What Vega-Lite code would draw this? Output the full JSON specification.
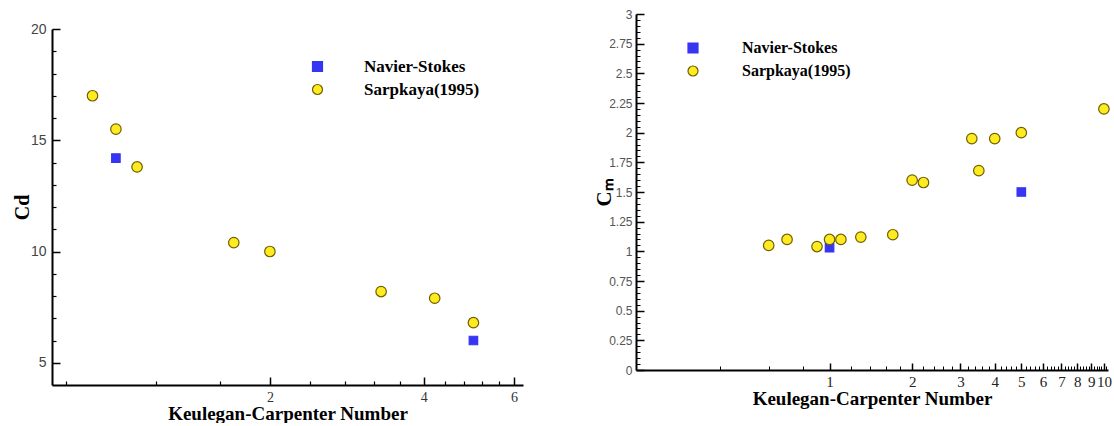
{
  "$schema": "https://vega.github.io/schema/vega-lite/v6.json",
  "padding": {"left": 12, "top": 8, "right": 0, "bottom": 0},
  "background": "white",
  "config": {"view": {"stroke": null}, "axis": {"grid": false}},
  "datasets": {
    "cd": [
      {"kc": 1.0, "coef": 14.2, "series": "Navier-Stokes"},
      {"kc": 5.0, "coef": 6.0, "series": "Navier-Stokes"},
      {"kc": 0.9, "coef": 17.0, "series": "Sarpkaya(1995)"},
      {"kc": 1.0, "coef": 15.5, "series": "Sarpkaya(1995)"},
      {"kc": 1.1, "coef": 13.8, "series": "Sarpkaya(1995)"},
      {"kc": 1.7, "coef": 10.4, "series": "Sarpkaya(1995)"},
      {"kc": 2.0, "coef": 10.0, "series": "Sarpkaya(1995)"},
      {"kc": 3.3, "coef": 8.2, "series": "Sarpkaya(1995)"},
      {"kc": 4.2, "coef": 7.9, "series": "Sarpkaya(1995)"},
      {"kc": 5.0, "coef": 6.8, "series": "Sarpkaya(1995)"}
    ],
    "cm": [
      {"kc": 1.0, "coef": 1.03, "series": "Navier-Stokes"},
      {"kc": 5.0, "coef": 1.5, "series": "Navier-Stokes"},
      {"kc": 0.6, "coef": 1.05, "series": "Sarpkaya(1995)"},
      {"kc": 0.7, "coef": 1.10, "series": "Sarpkaya(1995)"},
      {"kc": 0.9, "coef": 1.04, "series": "Sarpkaya(1995)"},
      {"kc": 1.0, "coef": 1.10, "series": "Sarpkaya(1995)"},
      {"kc": 1.1, "coef": 1.10, "series": "Sarpkaya(1995)"},
      {"kc": 1.3, "coef": 1.12, "series": "Sarpkaya(1995)"},
      {"kc": 1.7, "coef": 1.14, "series": "Sarpkaya(1995)"},
      {"kc": 2.0, "coef": 1.60, "series": "Sarpkaya(1995)"},
      {"kc": 2.2, "coef": 1.58, "series": "Sarpkaya(1995)"},
      {"kc": 3.3, "coef": 1.95, "series": "Sarpkaya(1995)"},
      {"kc": 3.5, "coef": 1.68, "series": "Sarpkaya(1995)"},
      {"kc": 4.0, "coef": 1.95, "series": "Sarpkaya(1995)"},
      {"kc": 5.0, "coef": 2.0, "series": "Sarpkaya(1995)"},
      {"kc": 10.0, "coef": 2.2, "series": "Sarpkaya(1995)"}
    ]
  },
  "hconcat": [
    {
      "vconcat": [
        {"width": 10, "height": 1, "data": {"values": []}, "mark": "point", "encoding": {}},
        {
          "width": 471,
          "height": 356,
          "data": {"name": "cd"},
          "layer": [
            {
              "mark": {"type": "point", "filled": true, "strokeWidth": 1.2, "opacity": 1},
              "encoding": {
                "x": {"field": "kc", "type": "quantitative",
                  "scale": {"type": "log", "domain": [0.75, 6.25], "nice": false},
                  "axis": {"values": [2, 4, 6], "labelExpr": "'' + datum.value", "title": "Keulegan-Carpenter Number",
                    "titleFont": "Liberation Serif", "titleFontSize": 19, "titleFontWeight": "bold", "titleColor": "#000", "titlePadding": 0,
                    "labelFont": "Liberation Serif", "labelFontSize": 14, "labelColor": "#333", "labelPadding": 13, "labelFlush": false,
                    "tickSize": -8, "tickColor": "#000", "tickWidth": 1.5, "domainColor": "#000", "domainWidth": 2}},
                "y": {"field": "coef", "type": "quantitative",
                  "scale": {"domain": [4, 20], "nice": false, "zero": false},
                  "axis": {"values": [5, 10, 15, 20], "labelExpr": "'' + datum.value", "title": "Cd",
                    "titleFont": "Liberation Serif", "titleFontSize": 20, "titleFontWeight": "bold", "titleColor": "#000", "titlePadding": -2,
                    "labelFont": "Liberation Sans", "labelFontSize": 14, "labelColor": "#444", "labelPadding": 14, "labelFlush": false,
                    "tickSize": -8, "tickColor": "#000", "tickWidth": 1.5, "domainColor": "#000", "domainWidth": 2}},
                "shape": {"field": "series", "type": "nominal",
                  "scale": {"domain": ["Navier-Stokes", "Sarpkaya(1995)"], "range": ["square", "circle"]},
                  "legend": {"title": null, "orient": "none", "legendX": 257, "legendY": 44, "padding": 0,
                    "labelFont": "Liberation Serif", "labelFontWeight": "bold", "labelFontSize": 17, "labelColor": "#000",
                    "labelOffset": 38, "symbolSize": 100, "rowPadding": 5, "symbolStrokeWidth": 1.2}},
                "fill": {"field": "series", "type": "nominal",
                  "scale": {"domain": ["Navier-Stokes", "Sarpkaya(1995)"], "range": ["#3535f2", "#ffeb1f"]},
                  "legend": {"title": null, "orient": "none", "legendX": 257, "legendY": 44, "padding": 0,
                    "labelFont": "Liberation Serif", "labelFontWeight": "bold", "labelFontSize": 17, "labelColor": "#000",
                    "labelOffset": 38, "symbolSize": 100, "rowPadding": 5, "symbolStrokeWidth": 1.2}},
                "stroke": {"field": "series", "type": "nominal",
                  "scale": {"domain": ["Navier-Stokes", "Sarpkaya(1995)"], "range": ["#3535f2", "#6e6000"]},
                  "legend": {"title": null, "orient": "none", "legendX": 257, "legendY": 44, "padding": 0,
                    "labelFont": "Liberation Serif", "labelFontWeight": "bold", "labelFontSize": 17, "labelColor": "#000",
                    "labelOffset": 38, "symbolSize": 100, "rowPadding": 5, "symbolStrokeWidth": 1.2}},
                "size": {"condition": {"test": "datum.series === 'Navier-Stokes'", "value": 72}, "value": 110}
              }
            },
            {
              "mark": {"type": "point", "opacity": 0},
              "encoding": {
                "x": {"field": "kc", "type": "quantitative",
                  "scale": {"type": "log", "domain": [0.75, 6.25], "nice": false},
                  "axis": {"orient": "bottom", "values": [0.8, 1.2, 1.6, 2.4, 2.8, 3.2, 3.6, 4.4, 4.8, 5.2, 5.6],
                    "labels": false, "domain": false, "title": null, "tickSize": -4, "tickColor": "#000", "tickWidth": 1.2}},
                "y": {"field": "coef", "type": "quantitative",
                  "scale": {"domain": [4, 20], "nice": false, "zero": false},
                  "axis": {"orient": "left", "values": [6, 7, 8, 9, 11, 12, 13, 14, 16, 17, 18, 19],
                    "labels": false, "domain": false, "title": null, "tickSize": -4, "tickColor": "#000", "tickWidth": 1.2}}
              }
            }
          ],
          "resolve": {"axis": {"x": "independent", "y": "independent"}}
        }
      ],
      "spacing": 14,
      "bounds": "flush"
    },
    {
      "width": 472,
      "height": 356,
      "data": {"name": "cm"},
      "layer": [
        {
          "mark": {"type": "point", "filled": true, "strokeWidth": 1.2, "opacity": 1},
          "encoding": {
            "x": {"field": "kc", "type": "quantitative",
              "scale": {"type": "log", "domain": [0.197, 10.35], "nice": false},
              "axis": {"values": [1, 2, 3, 4, 5, 6, 7, 8, 9, 10], "labelExpr": "'' + datum.value", "title": "Keulegan-Carpenter Number",
                "titleFont": "Liberation Serif", "titleFontSize": 19, "titleFontWeight": "bold", "titleColor": "#000", "titlePadding": 0,
                "labelFont": "Liberation Serif", "labelFontSize": 15, "labelColor": "#222", "labelPadding": 11, "labelFlush": false, "labelOverlap": false, "labelBound": false,
                "tickSize": -7, "tickColor": "#000", "tickWidth": 1.5, "domainColor": "#000", "domainWidth": 2}},
            "y": {"field": "coef", "type": "quantitative",
              "scale": {"domain": [0, 3], "nice": false, "zero": false},
              "axis": {"values": [0, 0.25, 0.5, 0.75, 1, 1.25, 1.5, 1.75, 2, 2.25, 2.5, 2.75, 3], "labelExpr": "'' + datum.value", "title": "Cₘ",
                "titleFont": "Liberation Serif", "titleFontSize": 21, "titleFontWeight": "bold", "titleColor": "#000", "titlePadding": -6,
                "labelFont": "Liberation Sans", "labelFontSize": 12, "labelColor": "#555", "labelPadding": 12, "labelFlush": false, "labelOverlap": false,
                "tickSize": -8, "tickColor": "#000", "tickWidth": 1.5, "domainColor": "#000", "domainWidth": 2}},
            "shape": {"field": "series", "type": "nominal",
              "scale": {"domain": ["Navier-Stokes", "Sarpkaya(1995)"], "range": ["square", "circle"]},
              "legend": {"title": null, "orient": "none", "legendX": 49, "legendY": 26, "padding": 0,
                "labelFont": "Liberation Serif", "labelFontWeight": "bold", "labelFontSize": 16, "labelColor": "#000",
                "labelOffset": 41, "symbolSize": 100, "rowPadding": 7, "symbolStrokeWidth": 1.2}},
            "fill": {"field": "series", "type": "nominal",
              "scale": {"domain": ["Navier-Stokes", "Sarpkaya(1995)"], "range": ["#3535f2", "#ffeb1f"]},
              "legend": {"title": null, "orient": "none", "legendX": 49, "legendY": 26, "padding": 0,
                "labelFont": "Liberation Serif", "labelFontWeight": "bold", "labelFontSize": 16, "labelColor": "#000",
                "labelOffset": 41, "symbolSize": 100, "rowPadding": 7, "symbolStrokeWidth": 1.2}},
            "stroke": {"field": "series", "type": "nominal",
              "scale": {"domain": ["Navier-Stokes", "Sarpkaya(1995)"], "range": ["#3535f2", "#6e6000"]},
              "legend": {"title": null, "orient": "none", "legendX": 49, "legendY": 26, "padding": 0,
                "labelFont": "Liberation Serif", "labelFontWeight": "bold", "labelFontSize": 16, "labelColor": "#000",
                "labelOffset": 41, "symbolSize": 100, "rowPadding": 7, "symbolStrokeWidth": 1.2}},
            "size": {"condition": {"test": "datum.series === 'Navier-Stokes'", "value": 72}, "value": 110}
          }
        },
        {
          "mark": {"type": "point", "opacity": 0},
          "encoding": {
            "x": {"field": "kc", "type": "quantitative",
              "scale": {"type": "log", "domain": [0.197, 10.35], "nice": false},
              "axis": {"orient": "bottom", "values": [0.4, 0.6, 0.8, 1.2, 1.4, 1.6, 1.8, 2.2, 2.4, 2.6, 2.8, 3.2, 3.4, 3.6, 3.8, 4.2, 4.4, 4.6, 4.8, 5.2, 5.4, 5.6, 5.8, 6.2, 6.4, 6.6, 6.8, 7.2, 7.4, 7.6, 7.8, 8.2, 8.4, 8.6, 8.8, 9.2, 9.4, 9.6, 9.8, 10.2],
                "labels": false, "domain": false, "title": null, "tickSize": -4, "tickColor": "#000", "tickWidth": 1}},
            "y": {"field": "coef", "type": "quantitative",
              "scale": {"domain": [0, 3], "nice": false, "zero": false},
              "axis": {"orient": "left", "values": [0.05, 0.1, 0.15, 0.2, 0.3, 0.35, 0.4, 0.45, 0.55, 0.6, 0.65, 0.7, 0.8, 0.85, 0.9, 0.95, 1.05, 1.1, 1.15, 1.2, 1.3, 1.35, 1.4, 1.45, 1.55, 1.6, 1.65, 1.7, 1.8, 1.85, 1.9, 1.95, 2.05, 2.1, 2.15, 2.2, 2.3, 2.35, 2.4, 2.45, 2.55, 2.6, 2.65, 2.7, 2.8, 2.85, 2.9, 2.95],
                "labels": false, "domain": false, "title": null, "tickSize": -4, "tickColor": "#000", "tickWidth": 1}}
          }
        }
      ],
      "resolve": {"axis": {"x": "independent", "y": "independent"}}
    }
  ],
  "spacing": 70,
  "resolve": {
    "scale": {"shape": "independent", "fill": "independent", "stroke": "independent"},
    "legend": {"shape": "independent", "fill": "independent", "stroke": "independent"}
  }
}
